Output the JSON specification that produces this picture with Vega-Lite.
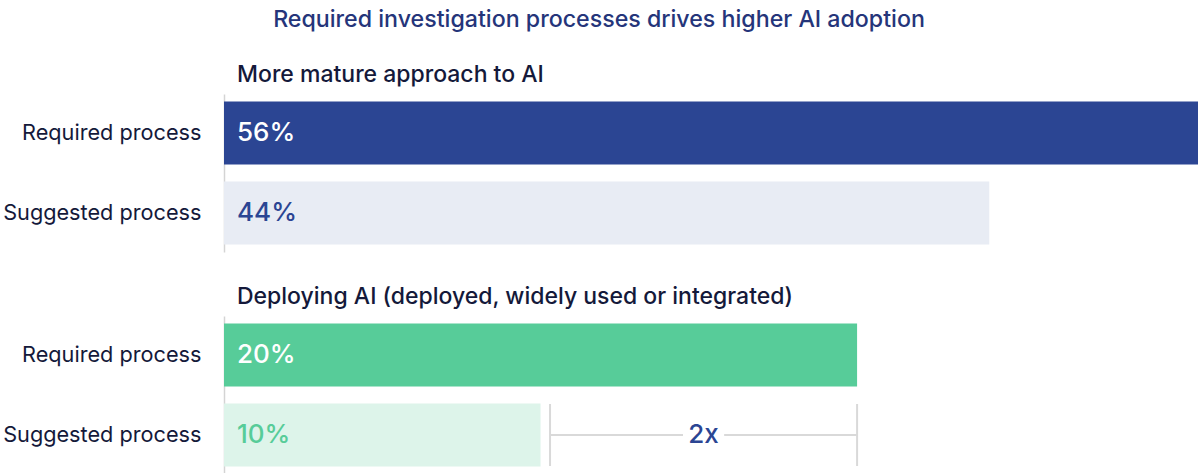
{
  "$schema": "https://vega.github.io/schema/vega-lite/v6.json",
  "description": "Required investigation processes drives higher AI adoption",
  "padding": {"left": 0, "top": 7, "right": 0, "bottom": 0},
  "title": {
    "text": "Required investigation processes drives higher AI adoption",
    "anchor": "middle",
    "frame": "bounds",
    "dx": 0,
    "font": "Inter",
    "fontSize": 23.2,
    "fontWeight": 500,
    "color": "#25357A",
    "offset": 32
  },
  "config": {
    "view": {"stroke": null},
    "font": "Inter",
    "axisY": {
      "title": null,
      "ticks": false,
      "labelPadding": 23,
      "labelFont": "Inter",
      "labelFontSize": 21.7,
      "labelColor": "#14193A",
      "labelLimit": 0,
      "domainColor": "#d4d4d4",
      "domainWidth": 1.5,
      "minExtent": 224,
      "maxExtent": 224
    },
    "title": {"font": "Inter", "fontSize": 23, "fontWeight": 500, "color": "#14193A", "anchor": "start", "frame": "group", "dx": 13, "offset": 7}
  },
  "spacing": 34,
  "resolve": {"scale": {"color": "independent", "fill": "independent", "x": "independent"}},
  "datasets": {
    "bars": [
      {"group": "More mature approach to AI", "process": "Required process", "series": "mature-required", "value": 56, "label": "56%"},
      {"group": "More mature approach to AI", "process": "Suggested process", "series": "mature-suggested", "value": 44, "label": "44%"},
      {"group": "Deploying AI (deployed, widely used or integrated)", "process": "Required process", "series": "deploy-required", "value": 20, "label": "20%"},
      {"group": "Deploying AI (deployed, widely used or integrated)", "process": "Suggested process", "series": "deploy-suggested", "value": 10, "label": "10%"}
    ],
    "bracket": [
      {"process": "Suggested process", "from": 10.3, "to": 20, "gapStart": 14.5, "gapEnd": 15.8, "mid": 15.15, "label": "2x"}
    ]
  },
  "vconcat": [
    {
      "title": "More mature approach to AI",
      "width": 974,
      "height": 158,
      "data": {"name": "bars"},
      "transform": [{"filter": "datum.group == 'More mature approach to AI'"}],
      "encoding": {
        "y": {
          "field": "process",
          "type": "nominal",
          "sort": ["Required process", "Suggested process"],
          "scale": {"paddingInner": 0.2125, "paddingOuter": 0.094}
        }
      },
      "layer": [
        {
          "mark": "bar",
          "encoding": {
            "x": {"field": "value", "type": "quantitative", "scale": {"domain": [0, 56], "nice": false}, "axis": null},
            "color": {
              "field": "series",
              "type": "nominal",
              "scale": {"domain": ["mature-required", "mature-suggested"], "range": ["#2B4593", "#E8ECF4"]},
              "legend": null
            }
          }
        },
        {
          "mark": {"type": "text", "align": "left", "dx": 13, "fontSize": 26, "fontWeight": 500},
          "encoding": {
            "x": {"datum": 0},
            "text": {"field": "label"},
            "fill": {
              "field": "series",
              "type": "nominal",
              "scale": {"domain": ["mature-required", "mature-suggested"], "range": ["#ffffff", "#2B4593"]},
              "legend": null
            }
          }
        }
      ]
    },
    {
      "title": "Deploying AI (deployed, widely used or integrated)",
      "width": 974,
      "height": 158,
      "encoding": {
        "y": {
          "field": "process",
          "type": "nominal",
          "sort": ["Required process", "Suggested process"],
          "scale": {"domain": ["Required process", "Suggested process"], "paddingInner": 0.2125, "paddingOuter": 0.094}
        }
      },
      "layer": [
        {
          "data": {"name": "bars"},
          "transform": [{"filter": "datum.group != 'More mature approach to AI'"}],
          "mark": "bar",
          "encoding": {
            "x": {"field": "value", "type": "quantitative", "scale": {"domain": [0, 30.77], "nice": false}, "axis": null},
            "color": {
              "field": "series",
              "type": "nominal",
              "scale": {"domain": ["deploy-required", "deploy-suggested"], "range": ["#57CC99", "#DDF4EA"]},
              "legend": null
            }
          }
        },
        {
          "data": {"name": "bars"},
          "transform": [{"filter": "datum.group != 'More mature approach to AI'"}],
          "mark": {"type": "text", "align": "left", "dx": 13, "fontSize": 26, "fontWeight": 500},
          "encoding": {
            "x": {"datum": 0},
            "text": {"field": "label"},
            "fill": {
              "field": "series",
              "type": "nominal",
              "scale": {"domain": ["deploy-required", "deploy-suggested"], "range": ["#ffffff", "#57CC99"]},
              "legend": null
            }
          }
        },
        {
          "data": {"name": "bracket"},
          "mark": {"type": "tick", "color": "#d9d9d9", "thickness": 2, "size": 62, "opacity": 1},
          "encoding": {"x": {"field": "from", "type": "quantitative"}}
        },
        {
          "data": {"name": "bracket"},
          "mark": {"type": "tick", "color": "#d9d9d9", "thickness": 2, "size": 62, "opacity": 1},
          "encoding": {"x": {"field": "to", "type": "quantitative"}}
        },
        {
          "data": {"name": "bracket"},
          "mark": {"type": "rule", "color": "#d9d9d9", "strokeWidth": 2},
          "encoding": {"x": {"field": "from", "type": "quantitative"}, "x2": {"field": "gapStart"}}
        },
        {
          "data": {"name": "bracket"},
          "mark": {"type": "rule", "color": "#d9d9d9", "strokeWidth": 2},
          "encoding": {"x": {"field": "gapEnd", "type": "quantitative"}, "x2": {"field": "to"}}
        },
        {
          "data": {"name": "bracket"},
          "mark": {"type": "text", "align": "center", "fontSize": 26, "fontWeight": 500, "color": "#2B4593"},
          "encoding": {"x": {"field": "mid", "type": "quantitative"}, "text": {"field": "label"}}
        }
      ]
    }
  ]
}
